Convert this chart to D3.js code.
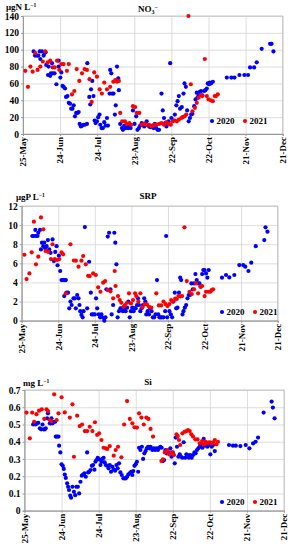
<!DOCTYPE html>
<html>
<head>
<meta charset="utf-8">
<script src="https://cdn.jsdelivr.net/npm/d3@7"></script>
<style>
  body { margin: 0; background: #fff; }
  svg { display: block; }
  text { font-family: "Liberation Serif", "Times New Roman", serif; font-weight: bold; }
</style>
</head>
<body>
<svg id="chart" width="293" height="550"></svg>
<script>
// x axis: days since 25-May
const tickDays = [0, 30, 60, 90, 120, 150, 180, 210];
const tickLabels = ["25-May", "24-Jun", "24-Jul", "23-Aug", "22-Sep", "22-Oct", "21-Nov", "21-Dec"];
const years = ["2020", "2021"];

// NO3- (µgN/L) as [day, value]
const no3_2020 = [[8.6,98],[9.7,93],[11.3,93],[12.4,93],[13.5,98],[14,89],[15.3,98],[16.7,93],[17.5,96],[18.3,97],
  [18.8,82],[20.7,80],[20.2,70],[22,69],[23.4,84],[22.5,72],[24,72],[25.5,72],[27,59],[28.8,80],[28.8,87],[30.2,67],
  [31,73],[32,57],[32.8,56],[34,54],[34.8,44],[36,45],[37,37],[38,36],[39,30],[40,30],[41,34],[42,21],[43,25],[44,25],
  [45,26],[45.8,12],[46.8,9],[47.9,10],[49,11],[50,11],[51.7,12],[52,84],[53.6,44],[54.4,35],[55,53],[56,63],[57,45],
  [57.9,16],[58.7,13],[59.8,15],[60.8,20],[61.9,23],[62.5,11],[63.5,7],[64.6,7],[65.7,14],[66.8,10],[67.9,19],[68.7,10],
  [70.5,76],[71.4,72],[70,48],[72,48],[73.2,48],[74.3,23],[75,34],[76,80],[77,66],[77.5,52],[78.6,12],[80,7],[80.8,5],
  [81.9,10],[83,7],[84,9],[85,7],[86,11],[87,7],[88.9,28],[90.2,12],[91.5,21],[92.6,5],[93.7,7],[94.8,10],[96,13],[97,12],
  [98,9],[99,11],[100,15],[101,11],[102,9],[103,8],[104.5,10],[105.5,7],[106.6,12],[107.7,7],[108.8,5],[110,5],[112,48],
  [113,28],[114,19],[115,13],[116,9],[117.7,15],[119,84],[120,19],[121.7,16],[122.8,23],[124,34],[125,39],[126,45],[127,30],
  [128.4,32],[129.8,48],[130.6,60],[131.7,56],[132.7,28],[134,15],[135,19],[136,23],[137,24],[138.4,33],[139.5,41],[140.5,49],
  [141,43],[142,46],[143,50],[144,51],[145,46],[146.5,51],[147.5,52],[148.6,54],[149.4,60],[150.5,59],[151,61],[152,60],[153.5,62],
  [164.8,67],[168.5,67],[171,67],[175,70],[179,70],[182,70],[183.6,79],[186.9,79],[189,85],[193,101],[199.8,107],[201,107],[202.5,98]];
const no3_2021 = [[1.9,75],[4,56],[6,80],[7.8,74],[10,96],[11.8,76],[14,80],[16,86],[18,98],[20,85],[22,87],[24,79],[25.6,79],
  [27.5,87],[29.4,76],[31,83],[32.8,83],[35.5,75],[37,83],[39.6,47],[41.5,51],[43.4,77],[45.5,63],[47.7,72],[49.8,77],[51.7,76],
  [53.8,65],[55.5,38],[57.6,73],[59.8,68],[62,53],[63.8,48],[65.7,61],[67.9,53],[70.5,56],[73,62],[74.6,64],[76,62],[77.5,63],
  [78.6,25],[80.2,15],[82.4,15],[84,12],[86,13],[87.5,11],[88.9,33],[90.7,32],[92,25],[94,25],[96,11],[98,12],[100,11],[102,11],
  [104,9],[106,11],[108,11],[110,12],[112,13],[114,11],[116,14],[118,12],[119.5,11],[121,15],[122.8,16],[124.4,15],[126,17],
  [128,19],[129,20],[130.6,21],[132,23],[133.8,140],[135.7,59],[137,27],[139,31],[140.5,37],[142,43],[143.8,46],[145,45],[147,89],
  [148.6,45],[150,41],[151.9,40],[153.5,39],[155,45],[156,45],[157.5,47]];

// SRP (µgP/L)
const srp_2020 = [[8.7,8.86],[10,8.86],[11.2,9.5],[11.7,8.86],[13,8.86],[13.6,9.2],[15,9.5],[15.8,7.46],[16.6,8.16],[17.7,7.8],
  [18.5,8.16],[19.3,7.57],[20.4,7.8],[21.5,8.44],[22.6,7.46],[23.7,7.1],[25.3,8.5],[26.4,6.24],[27.5,7.2],[28.6,7.8],[29.4,5.8],
  [30.5,6.8],[31.6,5.2],[32.7,4.25],[34,4.25],[35.4,4.25],[36.2,4.25],[34.9,2.58],[36.8,2.93],[38,2.93],[39,1.29],[40,2],[41,1.64],
  [42.5,2.34],[43.6,2.34],[44.4,1.29],[45.5,2.69],[46.6,2.34],[47.4,1.64],[48,1],[49,0.6],[50,0.35],[50.7,1],[51.8,9.8],[53.7,1.29],
  [55.3,6.17],[56.7,2.93],[57.5,0.66],[58.7,0.66],[60,0.66],[61,2.34],[61.9,1.29],[63.2,0.66],[64.3,0.35],[65.4,0.66],[66.8,0.31],
  [67.8,0],[68.7,0.35],[69.5,3.28],[70.6,8.8],[71.7,9.2],[72.8,3.28],[73.8,0.66],[75,1.64],[76,9.2],[76.8,8.16],[77.7,5.9],[78.7,0.35],
  [79.8,1],[81,1.29],[82,1.29],[83,1],[84.2,1.29],[85.3,1],[86.4,1.36],[87.5,2],[88.6,0.35],[89.6,1],[90.7,1.36],[91.8,1],[92.6,1.29],
  [93.5,1.29],[94.6,1.64],[95.4,2.34],[96.2,1.64],[97.3,1],[98.4,1.29],[99.5,1.64],[100.5,2.34],[101.4,2],[102.2,0.66],[103.3,1],
  [104.4,0.66],[105.4,1.29],[106.5,1],[107.6,0.35],[108.7,0.35],[109.8,0.66],[111,4.25],[112,0.66],[113,0.35],[114,0.35],[115,0.35],
  [116.3,0.35],[117.7,1],[118.5,8.86],[119.3,0.35],[121.2,1],[122.3,0.66],[123.4,0.35],[124.5,2],[125.6,2.93],[126.7,1.29],[127.8,1.36],
  [129,2.93],[130,4.5],[130.8,4.25],[131.9,0.66],[132.7,1],[133.8,1.36],[134.9,1.64],[136,2.34],[137,2.69],[138,2.69],[139.2,3.9],
  [140.3,3.28],[141.4,3.9],[142.5,4.88],[143.6,4.25],[144.7,3.9],[145.8,3.9],[146.9,3.56],[148,4.88],[149,5.3],[150,5.3],[151.2,4.95],
  [152.3,4.5],[153.4,5.3],[164.3,4.5],[167.6,4.78],[170.3,4.53],[174.4,4.78],[178.5,5.82],[181.7,5.82],[183.4,5.65],[186,5.2],
  [188.3,6.07],[192,7.8],[199,8.44],[200,9.77],[201.6,9.31]];
const srp_2021 = [[2.2,6.9],[4,4.36],[6.3,4.95],[8.2,7.15],[10,10.36],[11.7,5.9],[13.6,6.7],[15.8,10.8],[17.7,9.56],[19.6,7.3],
  [21.8,7.2],[24,6.45],[25.3,8],[27.2,6.45],[29,6.35],[30.8,6.45],[32.7,7.15],[34,6.94],[36.2,2.86],[40,8],[42.8,6.3],[44.4,6.28],
  [46.6,5.65],[49,6.28],[50.4,6.77],[52.6,5.9],[54.5,4.7],[55.8,4.67],[58.6,4.95],[60.8,4.78],[62.7,3.49],[64.6,3.03],[66.8,3.98],
  [68.4,4.15],[70.6,3.2],[72.8,3.07],[75,2.34],[76.3,5.2],[77,3.63],[79,2.58],[80.4,2.16],[81.7,1.88],[83.7,1.46],[84.7,1.64],
  [86.4,1.88],[88,2.86],[89.6,1.81],[91.3,2.16],[93,2.86],[94,2.58],[95.6,2],[97.3,2.86],[99,1.4],[101,1.71],[102.7,1.71],
  [104.4,1.46],[106.3,1.36],[110.4,2.86],[112.5,1.6],[114.4,1.6],[116.3,2],[118,1.74],[119.6,1.53],[121.2,1.74],[122.6,2.16],
  [124,2],[125.9,2.3],[127.2,2.27],[128.6,2.58],[130,2.55],[131.6,2.58],[133.5,9.77],[135.4,4.15],[137.6,3.03],[139.5,2.79],
  [141.4,3.28],[143,3.9],[144.7,2.86],[146.6,3.56],[148,3.63],[150,2.58],[151.2,3.03],[153,3.03],[154.8,3.03],[155.8,3.2],[157,3.28]];

// Si (mg/L)
const si_2020 = [[7,0.5],[8,0.51],[9,0.5],[10,0.507],[11.2,0.51],[12.4,0.478],[13.5,0.472],[14.6,0.5],[15.5,0.472],[16.5,0.472],
  [17.2,0.478],[18.3,0.536],[19,0.565],[20.5,0.507],[21.3,0.507],[21.8,0.536],[22.7,0.507],[23.7,0.516],[24.8,0.516],[25.3,0.43],
  [26.4,0.43],[27.5,0.43],[28,0.377],[29,0.338],[30,0.269],[31,0.26],[31.8,0.242],[32.6,0.21],[33.4,0.19],[34.5,0.159],[35.3,0.139],
  [36,0.12],[37,0.087],[37.7,0.075],[38.8,0.139],[40,0.11],[41,0.09],[42,0.139],[43.2,0.139],[44.2,0.1],[45.3,0.168],[46.4,0.203],
  [47.4,0.21],[48.5,0.217],[49.6,0.197],[50.7,0.338],[51.5,0.222],[52.3,0.226],[53.4,0.236],[54.5,0.26],[55.5,0.265],[56.6,0.238],
  [57.4,0.284],[58.2,0.294],[59.3,0.307],[60.4,0.298],[61.5,0.265],[62.3,0.284],[63.1,0.3],[64,0.307],[64.9,0.28],[65.8,0.265],
  [67,0.26],[68,0.246],[69,0.265],[70,0.226],[71.1,0.255],[72.2,0.24],[73.3,0.232],[74.4,0.265],[75.4,0.246],[76.5,0.275],[77.6,0.222],
  [78.7,0.207],[80,0.188],[81,0.188],[82,0.188],[83,0.197],[84,0.21],[85,0.217],[86.3,0.226],[87.3,0.207],[88,0.23],[89,0.26],
  [90,0.27],[91,0.284],[92,0.226],[92.7,0.365],[93.8,0.352],[95,0.371],[96,0.3],[97,0.333],[98,0.346],[99,0.362],[100,0.371],
  [101,0.362],[102,0.371],[103.5,0.352],[104.6,0.362],[105.7,0.352],[106.7,0.362],[108,0.352],[109,0.365],[110,0.371],[111,0.365],
  [112,0.288],[113,0.294],[114,0.352],[115,0.333],[116.7,0.338],[118,0.362],[119,0.313],[120,0.338],[121.6,0.275],[122.4,0.424],
  [123.4,0.371],[124.5,0.313],[125.6,0.327],[126.7,0.313],[127.8,0.307],[128.8,0.397],[130,0.307],[131,0.327],[132,0.323],[133,0.307],
  [134,0.323],[135.3,0.307],[136.4,0.323],[137.5,0.338],[138.5,0.333],[139.6,0.352],[140.7,0.362],[141.8,0.371],[143,0.385],
  [144,0.365],[145,0.416],[146,0.377],[147,0.385],[148,0.371],[149.3,0.381],[150.4,0.327],[151.5,0.371],[152.6,0.381],[154,0.346],
  [165.5,0.381],[168.7,0.377],[171,0.377],[174.7,0.375],[179,0.381],[182,0.362],[185,0.39],[187,0.4],[189,0.424],[193.5,0.569],
  [200,0.633],[201,0.598],[202.4,0.536]];
const si_2021 = [[1.6,0.569],[4.3,0.42],[6.2,0.569],[7.8,0.516],[9.7,0.56],[11.8,0.58],[14,0.588],[16,0.532],[17.8,0.588],[19,0.578],
  [20.5,0.526],[21.8,0.52],[24,0.675],[26,0.526],[27.5,0.565],[30,0.658],[32.6,0.57],[36.7,0.54],[38.8,0.617],[40,0.313],[42.6,0.551],
  [44.7,0.491],[46.6,0.5],[48.8,0.462],[50.7,0.462],[52.8,0.487],[55,0.462],[57,0.513],[58.8,0.44],[60.4,0.449],[62.3,0.41],
  [64,0.365],[65.8,0.362],[67,0.358],[69,0.375],[72.2,0.319],[73.8,0.352],[75.7,0.371],[78.4,0.31],[80.6,0.5],[83,0.636],[85.2,0.532],
  [87.3,0.507],[89,0.484],[91,0.482],[92.7,0.565],[94.6,0.54],[96.5,0.5],[98.6,0.54],[100.3,0.532],[102,0.474],[104,0.43],
  [110.8,0.288],[112,0.298],[113.5,0.338],[115.4,0.352],[117,0.327],[118.6,0.338],[120,0.333],[121,0.323],[123,0.443],[124,0.433],
  [125,0.41],[126,0.381],[127.8,0.449],[129.6,0.458],[131,0.462],[132.3,0.468],[133.7,0.462],[135,0.443],[136.4,0.43],[138.3,0.414],
  [140,0.414],[141.8,0.39],[143.7,0.404],[145.3,0.385],[146.6,0.4],[147.7,0.39],[148.8,0.395],[150,0.397],[151.5,0.39],[152.6,0.397],
  [154,0.41],[155.3,0.385],[156.6,0.4]];

const colors = ["#0000ff", "#ff0000"];

const panels = [
  { title: "NO", sub: "3", sup: "\u2212", unit: "\u03bcgN L", series: [no3_2020, no3_2021],
    yTicks: [0, 20, 40, 60, 80, 100, 120, 140], fmt: d3.format("d"),
    left: 23, right: 282.7, top: 16, bottom: 134, titleY: 12, unitX: 6, unitY: 10, legX: 212, legY: 121 },
  { title: "SRP", unit: "\u03bcgP L", series: [srp_2020, srp_2021],
    yTicks: [0, 2, 4, 6, 8, 10, 12], fmt: d3.format("d"),
    left: 21.7, right: 277.7, top: 206, bottom: 320.7, titleY: 199, unitX: 16, unitY: 200, legX: 222, legY: 312 },
  { title: "Si", unit: "mg L", series: [si_2020, si_2021],
    yTicks: [0, 0.1, 0.2, 0.3, 0.4, 0.5, 0.6, 0.7], fmt: d => d === 0 ? "0" : d3.format(".1f")(d),
    left: 24.5, right: 284, top: 390, bottom: 510.7, titleY: 385, unitX: 23, unitY: 386, legX: 222, legY: 502 }
];

const svg = d3.select("#chart");

panels.forEach(p => {
  const x = d3.scaleLinear().domain([0, 210]).range([p.left, p.right]);
  const yMax = p.yTicks[p.yTicks.length - 1];
  const y = d3.scaleLinear().domain([0, yMax]).range([p.bottom, p.top]);
  const g = svg.append("g");

  // gridlines
  g.append("g")
    .attr("transform", `translate(0,${p.bottom})`)
    .call(d3.axisBottom(x).tickValues(tickDays).tickSize(-(p.bottom - p.top)).tickFormat(""))
    .call(a => a.select(".domain").remove())
    .selectAll("line").attr("stroke", "#d4d4d4").attr("stroke-width", 0.8);
  g.append("g")
    .attr("transform", `translate(${p.left},0)`)
    .call(d3.axisLeft(y).tickValues(p.yTicks).tickSize(-(p.right - p.left)).tickFormat(""))
    .call(a => a.select(".domain").remove())
    .selectAll("line").attr("stroke", "#d4d4d4").attr("stroke-width", 0.8);

  // frame
  g.append("rect")
    .attr("x", p.left).attr("y", p.top)
    .attr("width", p.right - p.left).attr("height", p.bottom - p.top)
    .attr("fill", "none").attr("stroke", "#bbb").attr("stroke-width", 0.8);

  // y axis
  const ya = g.append("g")
    .attr("transform", `translate(${p.left},0)`)
    .call(d3.axisLeft(y).tickValues(p.yTicks).tickSize(2).tickPadding(2).tickFormat(p.fmt));
  ya.select(".domain").attr("stroke", "#999");
  ya.selectAll("line").attr("stroke", "#999");
  ya.selectAll("text").attr("font-size", 9.5).attr("font-family", "Liberation Serif").attr("font-weight", "bold").attr("fill", "#000");

  // x axis
  const xa = g.append("g")
    .attr("transform", `translate(0,${p.bottom})`)
    .call(d3.axisBottom(x).tickValues(tickDays).tickSize(2).tickFormat((d, i) => tickLabels[i]));
  xa.select(".domain").attr("stroke", "#999");
  xa.selectAll("line").attr("stroke", "#999");
  xa.selectAll("text")
    .attr("font-size", 9).attr("font-family", "Liberation Serif").attr("font-weight", "bold").attr("fill", "#000")
    .attr("transform", "rotate(-90)")
    .attr("text-anchor", "end")
    .attr("x", -3).attr("y", 0).attr("dy", "0.32em");

  // points
  p.series.forEach((s, i) => {
    g.append("g").selectAll("circle")
      .data(s)
      .join("circle")
        .attr("cx", d => x(d[0]))
        .attr("cy", d => y(d[1]))
        .attr("r", 2.1)
        .attr("fill", colors[i]);
  });

  // title
  const t = g.append("text")
    .attr("x", 148).attr("y", p.titleY)
    .attr("text-anchor", "middle")
    .attr("font-size", 9)
    .text(p.title);
  if (p.sub) {
    t.append("tspan").attr("font-size", 6).attr("dy", 2).text(p.sub);
    t.append("tspan").attr("font-size", 6).attr("dy", -5).text(p.sup);
  }

  // unit
  const u = g.append("text")
    .attr("x", p.unitX).attr("y", p.unitY)
    .attr("font-size", 9)
    .text(p.unit);
  u.append("tspan").attr("font-size", 5.5).attr("dy", -3.5).text("\u22121");

  // legend
  years.forEach((yr, i) => {
    const lx = p.legX + i * 33;
    g.append("circle").attr("cx", lx).attr("cy", p.legY).attr("r", 2.1).attr("fill", colors[i]);
    g.append("text").attr("x", lx + 4.5).attr("y", p.legY + 3.2)
      .attr("font-size", 9).text(yr);
  });
});
</script>
</body>
</html>
